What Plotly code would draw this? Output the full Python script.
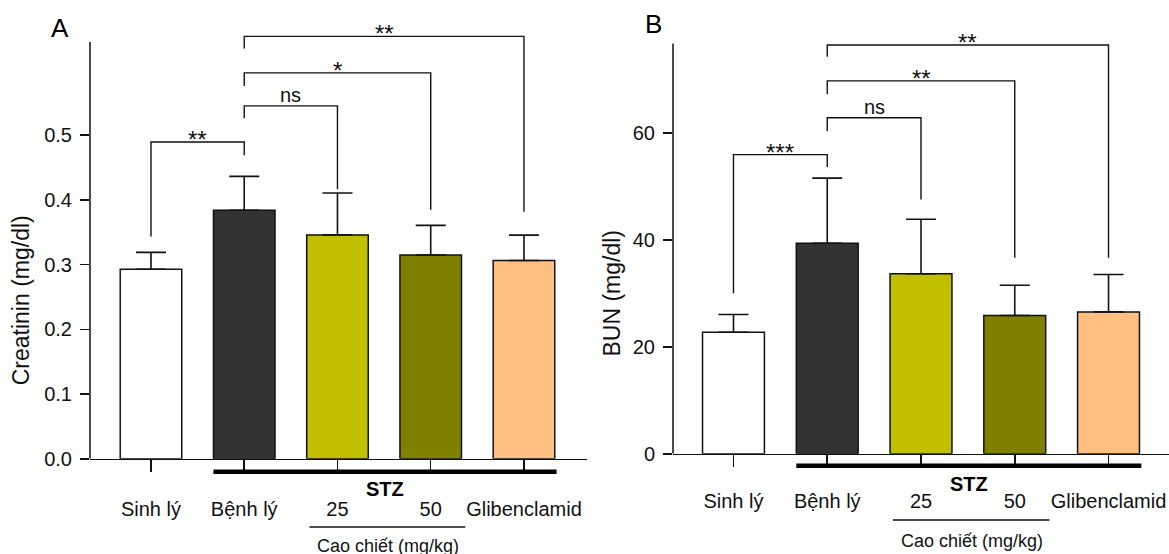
import plotly.graph_objects as go

# ---------------- data ----------------
groups = ["Sinh lý", "Bệnh lý", "25", "50", "Glibenclamid"]
bar_colors = ["#ffffff", "#333333", "#c0c000", "#808000", "#ffbf80"]

creat_mean = [0.293, 0.384, 0.346, 0.315, 0.3065]
creat_err = [0.026, 0.0525, 0.0647, 0.0457, 0.0392]

bun_mean = [22.75, 39.4, 33.7, 25.9, 26.56]
bun_err = [3.31, 12.2, 10.2, 5.66, 7.0]

creat_ticks = [0.0, 0.1, 0.2, 0.3, 0.4, 0.5]
bun_ticks = [0, 20, 40, 60]

# significance brackets: (group i, group j, bracket height, left leg end, right leg end, label)
creat_sig_i = [0, 1, 1, 1]
creat_sig_j = [1, 2, 3, 4]
creat_sig_y = [0.4896, 0.5454, 0.5964, 0.6528]
creat_sig_left = [0.3437, 0.5263, 0.5759, 0.6342]
creat_sig_right = [0.469, 0.4164, 0.385, 0.3819]
creat_sig_lab = ["**", "ns", "*", "**"]

bun_sig_i = [0, 1, 1, 1]
bun_sig_j = [1, 2, 3, 4]
bun_sig_y = [56.0, 62.9, 69.8, 76.5]
bun_sig_left = [30.06, 60.4, 67.3, 74.3]
bun_sig_right = [53.7, 47.6, 36.7, 36.7]
bun_sig_lab = ["***", "ns", "**", "**"]

creat_axis_top = 0.644
bun_axis_top = 76.8

# ---------------- layout geometry (pixels of the 1169x554 design) ----------------
W, H = 1169, 554
FIG_H = 566
FONT = "Arial, Liberation Sans, sans-serif"
INK = "#111111"


def py(p):
    return 1 - p / H


def pxx(p):
    return p / W


panels = [
    dict(mean=creat_mean, err=creat_err, ticks=creat_ticks, tickfmt=".1f",
         si=creat_sig_i, sj=creat_sig_j, sy=creat_sig_y, sl=creat_sig_left,
         sr=creat_sig_right, lab=creat_sig_lab, top=creat_axis_top,
         x0=90, x1=587, ybot=458, ytop=18.72, yr=[0, 0.68], xr=[-0.654, 4.676],
         title="Creatinin (mg/dl)", title_x=21, title_y=0.245, letter="A",
         letter_xy=(60, 28), stz_y=488, line_y=526, cao_y=545, thick_y=471,
         tickstand=20),
    dict(mean=bun_mean, err=bun_err, ticks=bun_ticks, tickfmt="d",
         si=bun_sig_i, sj=bun_sig_j, sy=bun_sig_y, sl=bun_sig_left,
         sr=bun_sig_right, lab=bun_sig_lab, top=bun_axis_top,
         x0=673, x1=1169, ybot=453, ytop=26.3, yr=[0, 80], xr=[-0.645, 4.645],
         title="BUN (mg/dl)", title_x=612, title_y=30, letter="B",
         letter_xy=(653, 24), stz_y=483, line_y=519, cao_y=540, thick_y=465,
         tickstand=17),
]

fig = go.Figure()
shapes = []
annotations = []

for k, p in enumerate(panels):
    sfx = "" if k == 0 else str(k + 1)
    xa, ya = "x" + sfx, "y" + sfx
    xcat = list(range(len(groups)))

    fig.add_trace(go.Bar(
        x=xcat, y=p["mean"], width=0.66, xaxis=xa, yaxis=ya,
        marker=dict(color=bar_colors, line=dict(color=INK, width=1.5)),
        error_y=dict(type="data", symmetric=False, array=p["err"],
                     arrayminus=[0] * len(groups), color=INK,
                     thickness=1.6, width=15),
        hoverinfo="skip", showlegend=False,
    ))

    for i, j, yb, yl, yrr, lab in zip(p["si"], p["sj"], p["sy"], p["sl"], p["sr"], p["lab"]):
        fig.add_trace(go.Scatter(
            x=[i, i, j, j], y=[yl, yb, yb, yrr], mode="lines",
            line=dict(color=INK, width=1.4), xaxis=xa, yaxis=ya,
            hoverinfo="skip", showlegend=False,
        ))
        is_star = set(lab) == {"*"}
        annotations.append(dict(
            x=(i + j) / 2, y=yb, xref=xa, yref=ya, text=lab, showarrow=False,
            yanchor="bottom", xanchor="center",
            yshift=-13 if is_star else -2,
            font=dict(family=FONT, size=24 if is_star else 20, color=INK),
        ))

    axis_x = dict(
        domain=[pxx(p["x0"]), pxx(p["x1"])], range=p["xr"],
        showline=True, linecolor=INK, linewidth=1.5,
        ticks="outside", ticklen=12, tickwidth=1.5, tickcolor=INK,
        tickvals=xcat, ticktext=groups, ticklabelstandoff=p["tickstand"],
        tickfont=dict(family=FONT, size=20, color=INK),
        showgrid=False, zeroline=False, fixedrange=True,
        anchor=ya,
    )
    axis_y = dict(
        domain=[py(p["ybot"]), py(p["ytop"])], range=p["yr"],
        showline=False,
        ticks="outside", ticklen=9, tickwidth=1.5, tickcolor=INK,
        tickvals=p["ticks"], tickformat=p["tickfmt"], ticklabelstandoff=4,
        tickfont=dict(family=FONT, size=20, color=INK),
        showgrid=False, zeroline=False, fixedrange=True,
        anchor=xa,
    )
    fig.update_layout(**{("xaxis" + sfx): axis_x, ("yaxis" + sfx): axis_y})

    # y axis line (stops at axis top, below the brackets)
    shapes.append(dict(type="line", xref=xa + " domain", yref=ya,
                       x0=0, x1=0, y0=0, y1=p["top"],
                       line=dict(color=INK, width=1.5)))
    # thick STZ bar
    shapes.append(dict(type="line", xref=xa, yref="paper",
                       x0=0.67, x1=4.35, y0=py(p["thick_y"]), y1=py(p["thick_y"]),
                       line=dict(color="#000000", width=4.5)))
    # underline of extract doses
    shapes.append(dict(type="line", xref=xa, yref="paper",
                       x0=1.7, x1=3.37, y0=py(p["line_y"]), y1=py(p["line_y"]),
                       line=dict(color=INK, width=1.5)))

    annotations.append(dict(x=2.51, y=py(p["stz_y"]), xref=xa, yref="paper",
                            text="<b>STZ</b>", showarrow=False,
                            xanchor="center", yanchor="middle",
                            font=dict(family=FONT, size=20, color="#000000")))
    annotations.append(dict(x=2.54, y=py(p["cao_y"]), xref=xa, yref="paper",
                            text="Cao chiết (mg/kg)", showarrow=False,
                            xanchor="center", yanchor="middle",
                            font=dict(family=FONT, size=18, color=INK)))
    annotations.append(dict(x=pxx(p["title_x"]), y=p["title_y"], xref="paper", yref=ya,
                            text=p["title"], showarrow=False, textangle=-90,
                            xanchor="center", yanchor="middle",
                            font=dict(family=FONT, size=23, color=INK)))
    annotations.append(dict(x=pxx(p["letter_xy"][0]), y=py(p["letter_xy"][1]),
                            xref="paper", yref="paper", text=p["letter"],
                            showarrow=False, xanchor="center", yanchor="middle",
                            font=dict(family=FONT, size=26, color="#000000")))

fig.update_layout(
    width=W, height=FIG_H, margin=dict(l=0, r=0, t=0, b=0),
    paper_bgcolor="white", plot_bgcolor="white",
    shapes=shapes, annotations=annotations, showlegend=False,
    bargap=0.3,
)

fig.write_html(
    "out.html",
    config={"displayModeBar": False, "staticPlot": True},
    post_script="document.body.style.margin='0px';document.body.style.overflow='hidden';",
)
